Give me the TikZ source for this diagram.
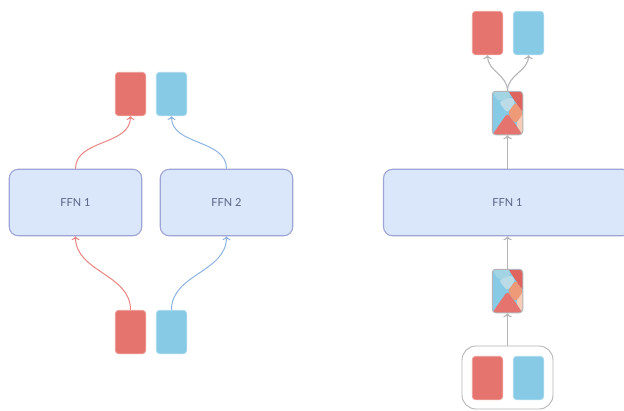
\documentclass[tikz,border=0pt]{standalone}
\usepackage{fontspec}
\setmainfont{Lato}
\usetikzlibrary{arrows.meta, positioning, calc}
\definecolor{tokred}{HTML}{E5736E}
\definecolor{tokblue}{HTML}{87CAE6}
\definecolor{mixpeach}{HTML}{F7CDB8}
\definecolor{mixorange}{HTML}{EE9A78}
\definecolor{mixred}{HTML}{DF645F}
\definecolor{mixteal}{HTML}{A3D4E4}
\definecolor{mixpale}{HTML}{BBDCE6}
\definecolor{ffnfill}{HTML}{DAE7FB}
\definecolor{ffnline}{HTML}{9EA5D4}
\definecolor{ffntext}{HTML}{5A6284}
\definecolor{linered}{HTML}{E98580}
\definecolor{lineblue}{HTML}{8DB4E0}
\definecolor{linegrey}{HTML}{B4B4B8}
\tikzset{
  tokenbox/.style={draw=#1!70!white, fill=#1, line width=0.8pt, rounded corners=3.5pt,
    minimum width=30.5pt, minimum height=43.5pt, inner sep=0pt},
  mixedbox/.style={draw=linegrey, line width=1pt, rounded corners=3.5pt,
    minimum width=30.5pt, minimum height=43.5pt, inner sep=0pt,
    path picture={
      \begin{scope}[shift={(path picture bounding box.center)}]
        \fill[tokblue] (-16,-23) rectangle (16,23);
        \fill[tokred] (-16,23) -- (0,0) -- (16,23) -- cycle;
        \fill[mixpeach] (16,-1) -- (8,11) -- (16,23) -- cycle;
        \fill[mixorange] (0,0) -- (8,-11) -- (16,0) -- (8,11) -- cycle;
        \fill[mixred] (0,-23) -- (16,-23) -- (16,0) -- (8,-11) -- cycle;
        \fill[mixteal] (-16,-23) -- (0,-23) -- (4,-16) -- (-9,-11) -- cycle;
        \fill[mixpale] (-9,-11) -- (4,-16) -- (8,-11) -- (0,0) -- cycle;
      \end{scope}
    }},
  ffnbox/.style={draw=ffnline, fill=ffnfill, line width=1.1pt, rounded corners=9pt,
    minimum height=66.5pt, inner sep=0pt, text=ffntext, font=\fontsize{11}{13}\selectfont},
  groupbox/.style={draw=linegrey, line width=0.9pt, rounded corners=14pt, inner sep=0pt},
  redline/.style={->, draw=linered, line width=1pt},
  blueline/.style={->, draw=lineblue, line width=1pt},
  greyline/.style={->, draw=linegrey, line width=1.1pt},
}

\begin{document}
\begin{tikzpicture}[x=1pt, y=-1pt]
    \useasboundingbox (0,0) rectangle (624,410);
    \clip (0,0) rectangle (624,410);
    % --- Left side ---
    \node[ffnbox, minimum width=132.5pt] (ffna) at (75.5,202.5) {FFN 1};
    \node[ffnbox, minimum width=132.5pt] (ffnb) at (226.5,202.5) {FFN 2};
    \node[tokenbox=tokred]  (redtop)  at (130.5,94)  {};
    \node[tokenbox=tokblue] (bluetop) at (171.5,94)  {};
    \node[tokenbox=tokred]  (redbot)  at (130.5,332) {};
    \node[tokenbox=tokblue] (bluebot) at (171.5,332) {};
    \draw[redline]  (redbot.north)  to[out=90, in=-90] (ffna.south);
    \draw[blueline] (bluebot.north) to[out=90, in=-90] (ffnb.south);
    \draw[redline]  (ffna.north)    to[out=90, in=-90] (redtop.south);
    \draw[blueline] (ffnb.north)    to[out=90, in=-90] (bluetop.south);
    % --- Right side ---
    \node[ffnbox, minimum width=248pt] (ffnc) at (507.5,202.5) {FFN 1};
    \node[mixedbox] (mixtop) at (507.5,113) {};
    \node[mixedbox] (mixbot) at (507.5,291) {};
    \node[tokenbox=tokred]  (redout)  at (487.5,33)  {};
    \node[tokenbox=tokblue] (blueout) at (528.5,33)  {};
    \node[tokenbox=tokred]  (redin)   at (487.5,378) {};
    \node[tokenbox=tokblue] (bluein)  at (528.5,378) {};
    \node[groupbox, minimum width=91pt, minimum height=63pt] (group) at (507.5,377.5) {};
    \draw[greyline] (group.north)  -- (mixbot.south);
    \draw[greyline] (mixbot.north) -- (ffnc.south);
    \draw[greyline] (ffnc.north)   -- (mixtop.south);
    \draw[greyline] (mixtop.north) to[out=90, in=-90] (redout.south);
    \draw[greyline] (mixtop.north) to[out=90, in=-90] (blueout.south);
\end{tikzpicture}
\end{document}
